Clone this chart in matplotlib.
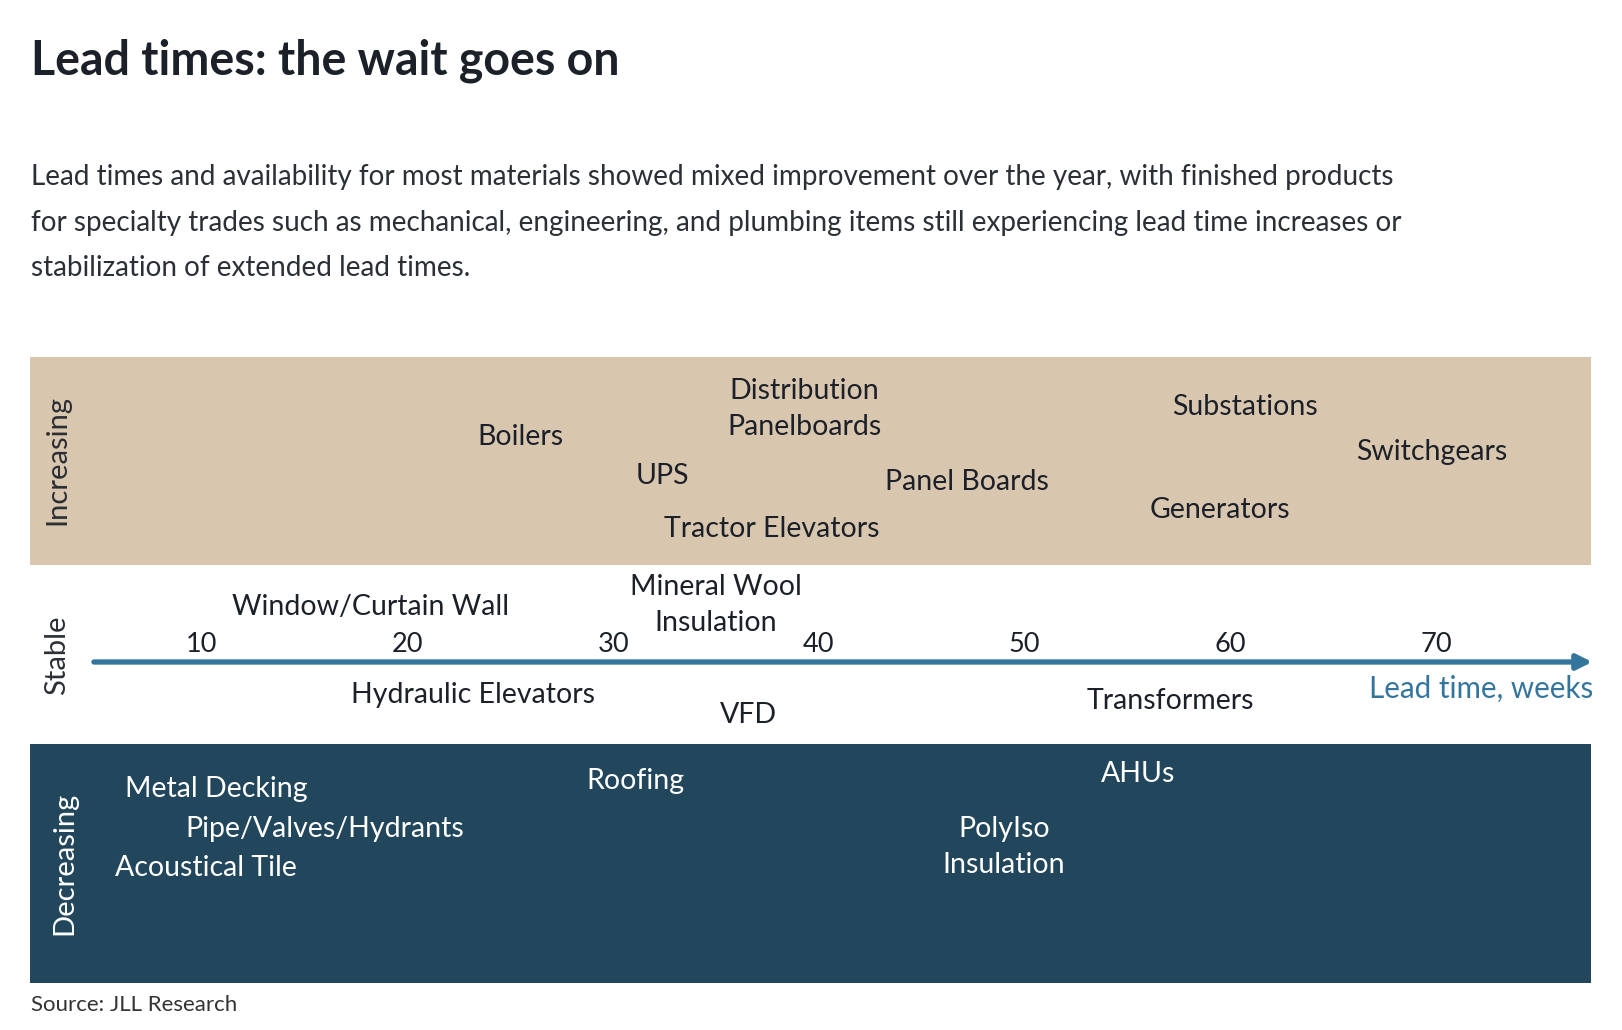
import matplotlib
matplotlib.use('Agg')
from matplotlib import pyplot as plt
from matplotlib.patches import Rectangle
from matplotlib import transforms

# lead time in weeks for each item, grouped by trend
increasing_items = ['Boilers', 'Distribution\nPanelboards', 'UPS', 'Tractor Elevators',
                    'Panel Boards', 'Substations', 'Switchgears', 'Generators']
increasing_weeks = [25.5, 39.3, 32.4, 37.7, 47.2, 60.7, 69.8, 59.5]

stable_items = ['Window/Curtain Wall', 'Mineral Wool\nInsulation', 'Hydraulic Elevators',
                'VFD', 'Transformers']
stable_weeks = [18.2, 35.0, 23.2, 36.6, 57.1]

decreasing_items = ['Metal Decking', 'Pipe/Valves/Hydrants', 'Acoustical Tile',
                    'Roofing', 'AHUs', 'PolyIso\nInsulation']
decreasing_weeks = [10.7, 16.0, 10.2, 31.1, 55.5, 49.0]

tick_weeks = [10, 20, 30, 40, 50, 60, 70]

# vertical placement of the labels inside each band (pixels from top)
increasing_y = [437, 409, 476, 529, 482, 407, 452, 510]
stable_y = [607, 605, 695, 715, 701]
decreasing_y = [789, 829, 868, 781, 774, 847]

TAN = '#D9C6AE'
NAVY = '#22465C'
BLUE = '#34759E'
INK = '#1c2029'
FONT = 'Lato'

W, H = 1622, 1030
fig = plt.figure(figsize=(W / 100, H / 100), dpi=100)
ax = fig.add_axes([0, 0, 1, 1])
# pixel x -> week: week = (px + 4) / 20.57
ax.set_xlim(4 / 20.57, (W + 4) / 20.57)
ax.set_ylim(H, 0)
ax.axis('off')

trans = transforms.blended_transform_factory(ax.transAxes, ax.transData)
ax.add_patch(Rectangle((30 / W, 357), (1591 - 30) / W, 565 - 357, transform=trans,
                       facecolor=TAN, edgecolor='none', zorder=0))
ax.add_patch(Rectangle((30 / W, 744), (1591 - 30) / W, 983 - 744, transform=trans,
                       facecolor=NAVY, edgecolor='none', zorder=0))

# title + intro text
ax.text(31 / W, 61, 'Lead times: the wait goes on', transform=trans, fontsize=33.5,
        fontweight='bold', color=INK, va='center', ha='left', family=FONT)
intro = ['Lead times and availability for most materials showed mixed improvement over the year, with finished products',
         'for specialty trades such as mechanical, engineering, and plumbing items still experiencing lead time increases or',
         'stabilization of extended lead times.']
for i, line in enumerate(intro):
    ax.text(31 / W, 177 + i * 45.5, line, transform=trans, fontsize=20.1, color='#2b2f36',
            va='center', ha='left', family=FONT)

# band names
ax.text(57 / W, 460, 'Increasing', transform=trans, rotation=90, fontsize=21,
        color='#2b2f36', va='center', ha='center', family=FONT)
ax.text(57 / W, 655, 'Stable', transform=trans, rotation=90, fontsize=21,
        color='#2b2f36', va='center', ha='center', family=FONT)
ax.text(64 / W, 863, 'Decreasing', transform=trans, rotation=90, fontsize=21,
        color='white', va='center', ha='center', family=FONT)

# time axis arrow
ax.annotate('', xy=(77.6, 662), xytext=(4.76, 662),
            arrowprops=dict(arrowstyle='-|>,head_length=0.9,head_width=0.45',
                            color=BLUE, lw=3.8, shrinkA=0, shrinkB=0))
for t in tick_weeks:
    ax.text(t, 644, str(t), fontsize=19.5, color=INK, ha='center', va='center', family=FONT)
ax.text(1593 / W, 689, 'Lead time, weeks', transform=trans, fontsize=21.3, color=BLUE,
        ha='right', va='center', family=FONT)

for name, wk, y in zip(increasing_items, increasing_weeks, increasing_y):
    ax.text(wk, y, name, fontsize=20.5, color=INK, ha='center', va='center',
            family=FONT, linespacing=1.45)
for name, wk, y in zip(stable_items, stable_weeks, stable_y):
    ax.text(wk, y, name, fontsize=20.5, color=INK, ha='center', va='center',
            family=FONT, linespacing=1.45)
for name, wk, y in zip(decreasing_items, decreasing_weeks, decreasing_y):
    ax.text(wk, y, name, fontsize=20.5, color='white', ha='center', va='center',
            family=FONT, linespacing=1.45)

ax.text(31 / W, 1005, 'Source: JLL Research', transform=trans, fontsize=16,
        color='#333333', ha='left', va='center', family=FONT)

fig.savefig('out.png', dpi=100, facecolor='white')
